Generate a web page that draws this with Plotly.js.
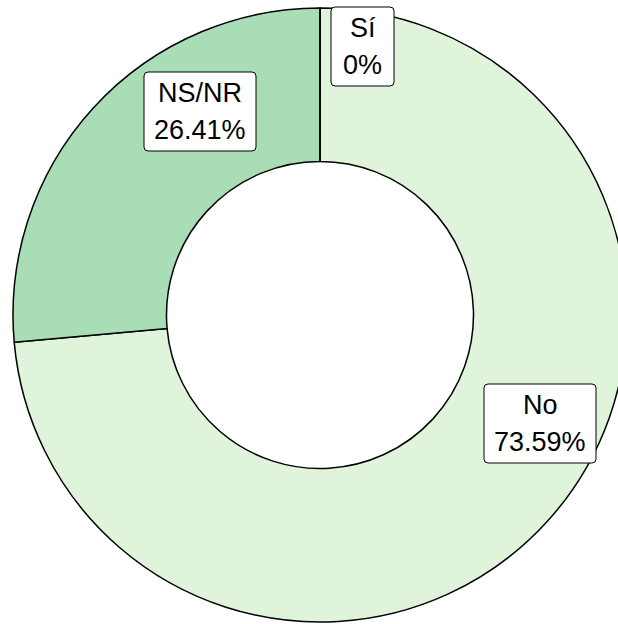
<!DOCTYPE html>
<html>
<head>
<meta charset="utf-8">
<script src="https://cdn.plot.ly/plotly-3.0.1.min.js"></script>
<style>html,body{margin:0;padding:0;overflow:hidden;background:#fff;width:618px;height:624px;}#chart{width:640px;height:624px;}</style>
</head>
<body>
<div id="chart"></div>
<script>
const categories = ["No", "NS/NR", "Sí"];
const values = [73.59, 26.41, 0];
const valueLabels = ["73.59%", "26.41%", "0%"];
const colors = ["#E0F3DB", "#A8DDB5", "#43A2CA"];

const W = 640, H = 624, L = 13, R = 13, T = 8, B = 2;
const pw = W - L - R, ph = H - T - B;
// label boxes in pixels: [x0, x1, y0, y1]
const boxes = [[484, 596, 384, 463], [144, 256, 72, 151], [331, 394, 7, 86]];

const px = x => (x - L) / pw;
const py = y => 1 - (y - T) / ph;

function roundRect(b, r) {
  const [x0, x1, y0, y1] = b;
  const pts = [
    `M${px(x0 + r)},${py(y0)}`,
    `L${px(x1 - r)},${py(y0)}`,
    `Q${px(x1)},${py(y0)} ${px(x1)},${py(y0 + r)}`,
    `L${px(x1)},${py(y1 - r)}`,
    `Q${px(x1)},${py(y1)} ${px(x1 - r)},${py(y1)}`,
    `L${px(x0 + r)},${py(y1)}`,
    `Q${px(x0)},${py(y1)} ${px(x0)},${py(y1 - r)}`,
    `L${px(x0)},${py(y0 + r)}`,
    `Q${px(x0)},${py(y0)} ${px(x0 + r)},${py(y0)}`,
    "Z"
  ];
  return pts.join(" ");
}

const shapes = boxes.map(b => ({
  type: "path", xref: "paper", yref: "paper", layer: "above",
  path: roundRect(b, 4),
  fillcolor: "#fff",
  line: {color: "#000", width: 1}
}));

const font = {family: "Liberation Sans, Arial, sans-serif", size: 27, color: "#000"};
const annotations = [];
categories.forEach((c, i) => {
  const b = boxes[i];
  const cx = (b[0] + b[1]) / 2, cy = (b[2] + b[3]) / 2;
  [[c, -18.5], [valueLabels[i], 18.5]].forEach(([t, dy]) => {
    annotations.push({
      xref: "paper", yref: "paper",
      x: px(cx), y: py(cy + dy),
      xanchor: "center", yanchor: "middle",
      text: t, showarrow: false, font: font
    });
  });
});

Plotly.newPlot("chart", [{
  type: "pie",
  labels: categories,
  values: values,
  hole: 0.5,
  sort: false,
  direction: "clockwise",
  rotation: 0,
  textinfo: "none",
  hoverinfo: "none",
  marker: {colors: colors, line: {color: "#000", width: 1.5}},
  domain: {x: [0, 1], y: [0, 1]}
}], {
  width: W, height: H,
  margin: {l: L, r: R, t: T, b: B},
  showlegend: false,
  paper_bgcolor: "#fff",
  shapes: shapes,
  annotations: annotations
}, {staticPlot: true});
</script>
</body>
</html>
